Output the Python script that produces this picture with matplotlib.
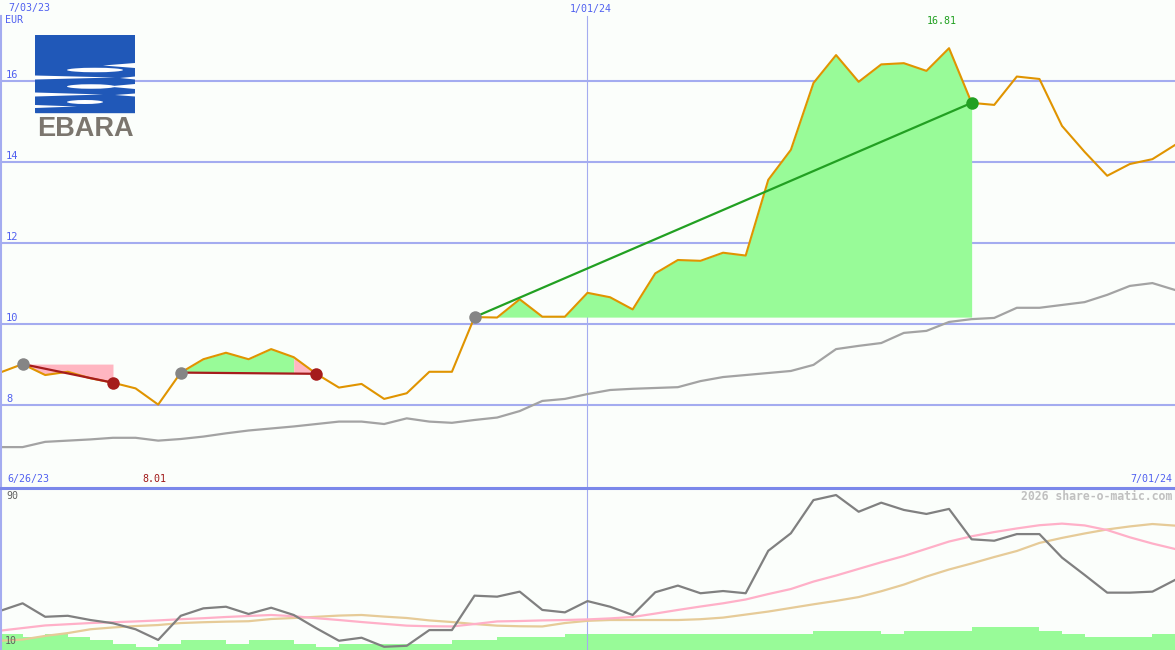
import matplotlib
matplotlib.use('Agg')
import matplotlib.pyplot as plt
import matplotlib.dates as mdates
from matplotlib.lines import Line2D
from matplotlib.patches import Rectangle, Ellipse, Polygon
import pandas as pd

# weekly closes, 7/03/23 .. 7/01/24
dates = pd.date_range('2023-07-03', periods=53, freq='7D')
price = [8.80, 9.01, 8.74, 8.82, 8.66, 8.55, 8.41, 8.01, 8.80, 9.13,
         9.29, 9.13, 9.38, 9.18, 8.77, 8.43, 8.52, 8.15, 8.29, 8.82,
         8.82, 10.17, 10.16, 10.61, 10.18, 10.18, 10.77, 10.66, 10.36, 11.25,
         11.58, 11.56, 11.76, 11.69, 13.56, 14.30, 15.95, 16.64, 15.98, 16.41,
         16.44, 16.25, 16.81, 15.46, 15.41, 16.11, 16.05, 14.89, 14.25, 13.66,
         13.95, 14.07, 14.42]
avg_line = [6.96, 6.96, 7.09, 7.12, 7.15, 7.19, 7.19, 7.12, 7.16, 7.22,
            7.30, 7.37, 7.42, 7.47, 7.53, 7.59, 7.59, 7.53, 7.67, 7.59,
            7.56, 7.63, 7.69, 7.85, 8.10, 8.15, 8.27, 8.37, 8.40, 8.42,
            8.44, 8.59, 8.69, 8.74, 8.79, 8.84, 8.99, 9.38, 9.46, 9.53,
            9.78, 9.83, 10.05, 10.12, 10.15, 10.40, 10.40, 10.47, 10.54, 10.72,
            10.94, 11.01, 10.84]
rsi = [29.4, 33.2, 26.5, 27.0, 24.9, 23.3, 20.3, 15.0, 27.0, 30.7,
       31.5, 27.9, 31.0, 27.4, 20.8, 14.6, 16.1, 11.6, 12.1, 19.9,
       19.9, 37.0, 36.5, 39.0, 29.9, 28.7, 34.3, 31.5, 27.4, 38.7,
       42.0, 38.2, 39.3, 38.2, 59.3, 68.0, 84.5, 87.0, 78.7, 83.2,
       79.6, 77.6, 80.1, 65.0, 64.3, 67.6, 67.6, 55.9, 47.3, 38.5,
       38.5, 39.0, 44.8]
rsi_fast = [19.6, 20.9, 22.2, 22.8, 23.4, 23.8, 24.2, 24.7, 25.3, 25.8,
            26.4, 26.9, 27.4, 26.8, 25.8, 24.9, 23.9, 23.0, 22.1, 21.8,
            21.7, 22.9, 24.2, 24.4, 24.7, 24.9, 25.2, 25.7, 26.4, 28.1,
            29.9, 31.6, 33.2, 35.1, 37.8, 40.3, 44.0, 47.0, 50.3, 53.6,
            56.7, 60.3, 63.9, 66.5, 68.6, 70.4, 72.0, 72.8, 71.9, 69.6,
            66.0, 62.9, 60.2]
rsi_slow = [14.6, 15.2, 17.0, 18.4, 20.3, 21.2, 21.9, 22.4, 23.4, 23.8,
            24.1, 24.3, 25.4, 25.9, 26.5, 27.1, 27.4, 26.6, 25.9, 24.7,
            23.9, 22.9, 22.1, 21.8, 21.7, 23.4, 24.5, 24.9, 24.9, 24.9,
            24.9, 25.3, 26.1, 27.6, 29.1, 30.9, 32.7, 34.4, 36.3, 39.2,
            42.5, 46.5, 50.0, 53.0, 56.2, 59.2, 63.2, 65.7, 67.9, 69.9,
            71.4, 72.6, 71.8]
volume = [5, 4, 5, 4, 3, 2, 1, 2, 3, 3,
          2, 3, 3, 2, 1, 2, 2, 2, 2, 2,
          3, 3, 4, 4, 4, 5, 5, 5, 5, 5,
          5, 5, 5, 5, 5, 5, 6, 6, 6, 5,
          6, 6, 6, 7, 7, 7, 6, 5, 4, 4,
          4, 5, 5]
entry_idx = [1, 8, 21]
exit_idx = [5, 14, 43]
price_ticks = [8, 10, 12, 14, 16]

W, H = 1175, 650
BG = '#fbfefb'
GRID = '#a4acf0'
LBL = '#5060f0'
MONO = 'DejaVu Sans Mono'
GAIN_FILL = '#98fb98'
LOSS_FILL = '#ffb6c1'

fig = plt.figure(figsize=(W / 100, H / 100), dpi=100)
fig.patch.set_facecolor(BG)

x = mdates.date2num(dates)
jan = mdates.date2num(pd.Timestamp('2024-01-01'))

ax = fig.add_axes([0, 163 / H, 1, 487 / H])
axb = fig.add_axes([0, 0, 1, 161 / H])
for a in (ax, axb):
    a.set_facecolor(BG)
    for s in a.spines.values():
        s.set_visible(False)
    a.set_xticks([])
    a.set_yticks([])
    a.set_xlim(x[0], x[-1])

# ---- price panel
ax.set_ylim(5.975, 18.0)
for t in price_ticks:
    ax.axhline(t, color=GRID, lw=1.5, zorder=0)
    ax.text(6 / W, t + 0.02, str(t), transform=ax.get_yaxis_transform(),
            color=LBL, fontsize=7.5, family=MONO, va='bottom', ha='left')
ax.axvline(jan, ymax=0.968, color=GRID, lw=0.8, zorder=0)

ax.plot(x, avg_line, color='#a3a3a3', lw=1.6, zorder=2)

# shaded area between entry level and price, one polygon per run of colour
for e, s in zip(entry_idx, exit_idx):
    base = price[e]
    cols = [GAIN_FILL if price[k + 1] >= base else LOSS_FILL for k in range(e, s)]
    k0 = e
    for k in range(e, s):
        last = (k == s - 1) or (cols[k + 1 - e] != cols[k - e])
        if last:
            ax.fill_between(x[k0:k + 2], price[k0:k + 2], base,
                            color=cols[k - e], lw=0, zorder=3)
            k0 = k + 1

ax.plot(x, price, color='#e09400', lw=1.5, zorder=4)

for e, s in zip(entry_idx, exit_idx):
    gain = price[s] >= price[e]
    c = '#22a022' if gain else '#a51c1c'
    ax.plot([x[e], x[s]], [price[e], price[s]], color=c, lw=1.6, zorder=5)
    ax.plot(x[e], price[e], 'o', ms=9, color='#858585', mew=0, zorder=6)
    ax.plot(x[s], price[s], 'o', ms=9, color=c, mew=0, zorder=6)

# ---- indicator panel
axb.set_ylim(10, 90)
axv = axb.twinx()
axv.set_ylim(0, 50)
axv.set_yticks([])
for s in axv.spines.values():
    s.set_visible(False)
axb.set_zorder(axv.get_zorder() + 1)
axb.patch.set_visible(False)
axv.fill_between(x, volume, step='post', color=GAIN_FILL, lw=0)

axb.axvline(jan, color=GRID, lw=0.8, zorder=0)
axb.plot(x, rsi_slow, color='#e6cb98', lw=1.6, zorder=2)
axb.plot(x, rsi_fast, color='#ffb0c8', lw=1.6, zorder=3)
axb.plot(x, rsi, color='#808080', lw=1.6, zorder=4)


def ftext(px, py, s, **kw):
    fig.text(px / W, 1 - py / H, s, va='center', family=MONO, **kw)


ftext(8, 8, '7/03/23', color=LBL, fontsize=7.2)
ftext(5, 20, 'EUR', color=LBL, fontsize=7.2)
ftext(591, 9, '1/01/24', color=LBL, fontsize=7.2, ha='center')
ftext(942, 21, '16.81', color='#20a020', fontsize=7.2, ha='center')
ftext(7, 479, '6/26/23', color=LBL, fontsize=7.2)
ftext(142, 479, '8.01', color='#a01818', fontsize=7.2)
ftext(1172, 479, '7/01/24', color=LBL, fontsize=7.2, ha='right')
ftext(6, 496, '90', color='#606060', fontsize=7.2)
ftext(5, 641, '10', color='#606060', fontsize=7.2)
ftext(1172, 496, '2026 share-o-matic.com', color='#c0c0c0', fontsize=8.3,
      ha='right', weight='bold')

# frame lines
fig.add_artist(Line2D([1 / W, 1 / W], [0, 1 - 16 / H], color=GRID, lw=1.5))
fig.add_artist(Line2D([0, 1], [1 - 487.5 / H] * 2, color='#7b88ea', lw=2.2))

# ---- logo
axl = fig.add_axes([35 / W, 1 - 140 / H, 100 / W, 105 / H])
axl.set_xlim(0, 100)
axl.set_ylim(105, 0)
axl.axis('off')
axl.add_patch(Rectangle((-1, -1), 102, 107, color=BG))
axl.add_patch(Rectangle((0, 0), 100, 77, color='#2058b8'))
white = 'white'
for pts in ([(100, 28), (68, 30.5), (100, 33)],
            [(0, 40.5), (80, 42.5), (0, 44.5)],
            [(100, 41.5), (85, 43), (100, 44.5)],
            [(100, 49), (72, 51.5), (100, 54)],
            [(0, 57.5), (68, 59.5), (0, 61.5)],
            [(100, 58.5), (80, 60), (100, 61.5)],
            [(0, 70), (42, 71.5), (0, 73)]):
    axl.add_patch(Polygon(pts, closed=True, color=white, lw=0))
for cx, cy, w, h in ((60, 35, 56, 4.5), (56, 51.5, 48, 4.5), (50, 67, 36, 4)):
    axl.add_patch(Ellipse((cx, cy), w, h, color=white, lw=0))
axl.text(50, 94, 'EBARA', ha='center', va='center', fontsize=19.5,
         family='Liberation Sans', weight='bold', color='#7b766e')

fig.savefig('out.png', dpi=100, facecolor=BG)
